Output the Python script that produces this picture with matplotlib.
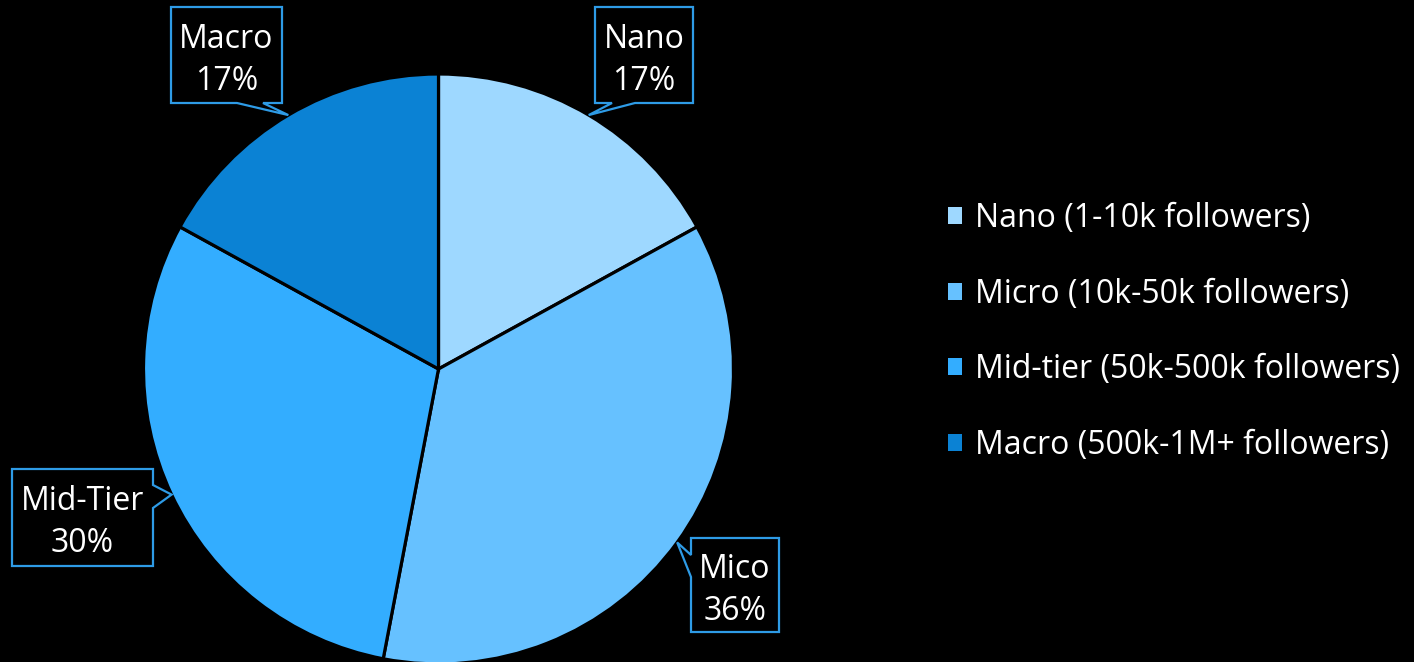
import numpy as np
import matplotlib.pyplot as plt
from matplotlib.patches import Patch, Polygon

plt.rcParams['font.family'] = ['Open Sans', 'DejaVu Sans']

# Influencer tiers and their share
short_names = ['Nano', 'Mico', 'Mid-Tier', 'Macro']
legend_names = ['Nano (1-10k followers)', 'Micro (10k-50k followers)',
                'Mid-tier (50k-500k followers)', 'Macro (500k-1M+ followers)']
shares = [17, 36, 30, 17]
colors = ['#9ED8FF', '#66C1FF', '#33ADFF', '#0B82D4']

W, H = 1414, 662
fig = plt.figure(figsize=(W / 100, H / 100), dpi=100, facecolor='black')
ax = fig.add_axes([0, 0, 1, 1])
ax.set_facecolor('black')

cx, cy, r = 438.5, H - 369, 295
wedges, _ = ax.pie(shares, colors=colors, startangle=90, counterclock=False,
                   center=(cx, cy), radius=r, frame=True,
                   wedgeprops=dict(edgecolor='black', linewidth=2.3))
ax.set_xlim(0, W)
ax.set_ylim(0, H)
ax.axis('off')

# callout boxes: (x0, x1, y0, y1) in pixels from the top, side of pointer, pointer span
boxes = [
    ((595, 693, 7, 103), 'bottom', (612, 635)),
    ((691, 779, 538, 632), 'left', (555, 577)),
    ((12, 153, 469, 566), 'right', (485, 508)),
    ((171, 282, 7, 103), 'bottom', (237, 263)),
]

for w, name, pct, (box, side, span) in zip(wedges, short_names, shares, boxes):
    mid = np.deg2rad((w.theta1 + w.theta2) / 2)
    tip = (cx + r * np.cos(mid), cy + r * np.sin(mid))
    x0, x1, y0, y1 = box
    y0, y1 = H - y0, H - y1
    if side == 'bottom':
        pts = [(x0, y0), (x1, y0), (x1, y1), (span[1], y1), tip, (span[0], y1), (x0, y1)]
    elif side == 'left':
        pts = [(x0, y0), (x1, y0), (x1, y1), (x0, y1), (x0, H - span[1]), tip, (x0, H - span[0])]
    else:
        pts = [(x0, y0), (x1, y0), (x1, H - span[0]), tip, (x1, H - span[1]), (x1, y1), (x0, y1)]
    ax.add_patch(Polygon(pts, closed=True, facecolor='black', edgecolor='#2E9BE6',
                         linewidth=1.6, zorder=3))
    ax.text((x0 + x1) / 2, (y0 + y1) / 2 - 5, f'{name}\n{pct}%', color='white',
            fontsize=23, ha='center', va='center', linespacing=1.36, zorder=4)

handles = [Patch(facecolor=c, edgecolor='none') for c in colors]
ax.legend(handles, legend_names, loc='center left',
          bbox_to_anchor=(948 / W, 1 - 332 / H), bbox_transform=fig.transFigure,
          frameon=False, fontsize=23, labelcolor='white', borderpad=0,
          borderaxespad=0, handlelength=0.43, handleheight=0.43,
          handletextpad=0.41, labelspacing=1.33)

fig.savefig('out.png', dpi=100, facecolor='black')
